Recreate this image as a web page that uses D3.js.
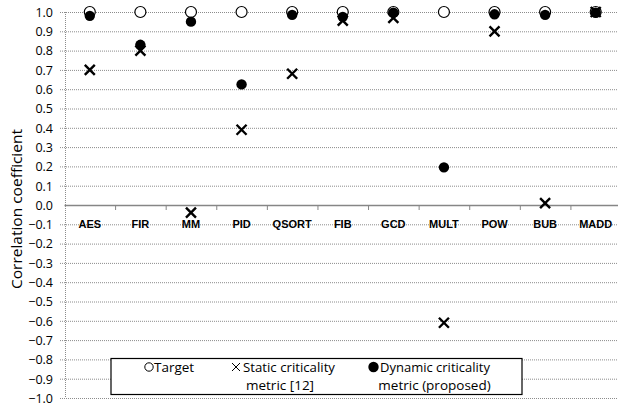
<!DOCTYPE html>
<html><head><meta charset="utf-8">
<script src="https://cdn.jsdelivr.net/npm/d3@7"></script>
<style>body{margin:0;background:#fff}svg{display:block}</style>
</head><body>
<svg id="chart" width="618" height="407"></svg>
<script>
const categories = ["AES","FIR","MM","PID","QSORT","FIB","GCD","MULT","POW","BUB","MADD"];
const targetValues = [1,1,1,1,1,1,1,1,1,1,1];
const staticValues = [0.70,0.80,-0.04,0.39,0.68,0.955,0.97,-0.61,0.90,0.01,1.0];
const dynamicValues = [0.98,0.83,0.95,0.625,0.985,0.975,0.997,0.195,0.988,0.985,0.997];
const yTicks = d3.range(-10, 11).map(i => i / 10);

const svg = d3.select("#chart");
const x = d3.scaleBand().domain(categories).range([64.5, 621]);
const y = d3.scaleLinear().domain([-1, 1]).range([398, 12]);

// gridlines
svg.append("g").selectAll("line").data(yTicks.filter(v => v !== 0)).join("line")
  .attr("x1", 60).attr("x2", 618)
  .attr("y1", d => y(d) + 0.5).attr("y2", d => y(d) + 0.5)
  .attr("stroke", "#8c8c8c").attr("stroke-width", 1).attr("stroke-dasharray", "1,1");
// vertical axis (dotted)
svg.append("line").attr("x1", 65.5).attr("x2", 65.5).attr("y1", y(1)).attr("y2", y(-1))
  .attr("stroke", "#8c8c8c").attr("stroke-dasharray", "1,1");

// y tick labels
const yAxis = d3.axisLeft(y).tickValues(yTicks).tickSize(0).tickPadding(0)
  .tickFormat(d3.format(".1f"));
const yg = svg.append("g").attr("transform", "translate(53,0)").call(yAxis);
yg.select(".domain").remove();
yg.selectAll("text").attr("font-family", "Open Sans, Liberation Sans, sans-serif")
  .attr("font-size", 12.5).attr("fill", "#000").attr("dy", "0.35em");

// x axis at zero
const xg = svg.append("g").attr("transform", `translate(0,${y(0)})`);
xg.append("line").attr("x1", 64.5).attr("x2", 618).attr("y1", 0.5).attr("y2", 0.5)
  .attr("stroke", "#868686").attr("stroke-width", 1.5);
xg.selectAll("line.tk").data(categories.slice(1)).join("line").attr("class", "tk")
  .attr("x1", d => x(d) + 0.5).attr("x2", d => x(d) + 0.5).attr("y1", 0).attr("y2", 5)
  .attr("stroke", "#868686").attr("stroke-width", 1);
xg.selectAll("text").data(categories).join("text")
  .attr("x", d => x(d) + x.bandwidth() / 2).attr("y", 19.5)
  .attr("dy", "0.35em").attr("text-anchor", "middle")
  .attr("font-family", "Liberation Sans, Arial, sans-serif").attr("font-weight", "bold")
  .attr("font-size", 11).text(d => d);

// y title
svg.append("text").attr("transform", "translate(17,209) rotate(-90)")
  .attr("text-anchor", "middle").attr("dy", "0.35em")
  .attr("font-family", "Open Sans, Liberation Sans, sans-serif").attr("font-size", 15)
  .attr("textLength", 160).attr("lengthAdjust", "spacingAndGlyphs")
  .text("Correlation coefficient");

const cx = (d, i) => x(categories[i]) + x.bandwidth() / 2;
// target
svg.append("g").selectAll("circle").data(targetValues).join("circle")
  .attr("cx", cx).attr("cy", d => y(d)).attr("r", 5.5)
  .attr("fill", "#fff").attr("stroke", "#000").attr("stroke-width", 1.2);
// static
const xs = 5;
svg.append("g").selectAll("path").data(staticValues).join("path")
  .attr("d", (d, i) => { const px = cx(d, i), py = y(d);
    return `M${px - xs},${py - xs}L${px + xs},${py + xs}M${px - xs},${py + xs}L${px + xs},${py - xs}`; })
  .attr("stroke", "#000").attr("stroke-width", 2.4).attr("fill", "none");
// dynamic
svg.append("g").selectAll("circle").data(dynamicValues).join("circle")
  .attr("cx", cx).attr("cy", d => y(d)).attr("r", 5.2).attr("fill", "#000");

// legend
const lg = svg.append("g");
lg.append("rect").attr("x", 111).attr("y", 358.5).attr("width", 411).attr("height", 36)
  .attr("fill", "#fff").attr("stroke", "#000").attr("stroke-width", 1.2);
const lf = "Open Sans, Liberation Sans, sans-serif";
const fs = 13.5;
lg.append("circle").attr("cx", 149).attr("cy", 367).attr("r", 4.2).attr("fill", "#fff")
  .attr("stroke", "#000").attr("stroke-width", 1);
lg.append("text").attr("x", 154).attr("y", 367).attr("dy", "0.35em").attr("font-family", lf)
  .attr("font-size", fs).text("Target");
lg.append("path").attr("d", "M232,363L240,371M232,371L240,363").attr("stroke", "#000").attr("stroke-width", 1);
lg.append("text").attr("x", 243).attr("y", 367).attr("dy", "0.35em").attr("font-family", lf)
  .attr("font-size", fs).attr("textLength", 92).attr("lengthAdjust", "spacingAndGlyphs").text("Static criticality");
lg.append("text").attr("x", 280).attr("y", 385.5).attr("dy", "0.35em").attr("text-anchor", "middle")
  .attr("font-family", lf).attr("font-size", fs).text("metric [12]");
lg.append("circle").attr("cx", 373.5).attr("cy", 367).attr("r", 5.2).attr("fill", "#000");
lg.append("text").attr("x", 380).attr("y", 367).attr("dy", "0.35em").attr("font-family", lf)
  .attr("font-size", fs).attr("textLength", 110).attr("lengthAdjust", "spacingAndGlyphs").text("Dynamic criticality");
lg.append("text").attr("x", 434.5).attr("y", 385.5).attr("dy", "0.35em").attr("text-anchor", "middle")
  .attr("font-family", lf).attr("font-size", fs).text("metric (proposed)");
</script>
</body></html>
